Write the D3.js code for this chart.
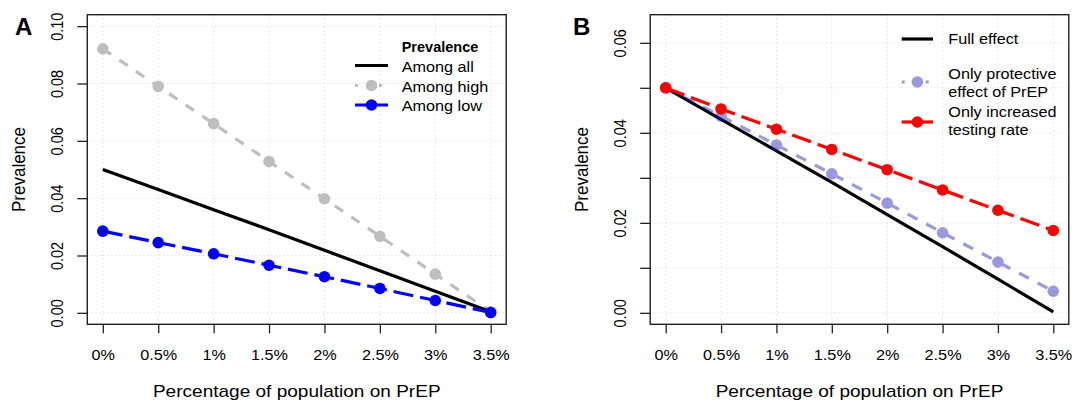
<!DOCTYPE html>
<html>
<head>
<meta charset="utf-8">
<script src="https://cdn.jsdelivr.net/npm/d3@7"></script>
<style>
  body { margin: 0; background: #fff; }
  text { font-family: "Liberation Sans", Arial, Helvetica, sans-serif; fill: #000; }
</style>
</head>
<body>
<script>
//x axis: share of population on PrEP
var xValues = [0, 0.5, 1, 1.5, 2, 2.5, 3, 3.5];
var xLabels = ["0%", "0.5%", "1%", "1.5%", "2%", "2.5%", "3%", "3.5%"];

//panel A series
var amongAll  = [0.0500, 0.0430, 0.0360, 0.0290, 0.0218, 0.0147, 0.0075, 0.0004];
var amongHigh = [0.0921, 0.0790, 0.0660, 0.0528, 0.0398, 0.0267, 0.0135, 0.0004];
var amongLow  = [0.0285, 0.0245, 0.0206, 0.0166, 0.0126, 0.0085, 0.0043, 0.0001];
var yTicksA  = [0, 0.02, 0.04, 0.06, 0.08, 0.10];
var yLabelsA = ["0.00", "0.02", "0.04", "0.06", "0.08", "0.10"];

//panel B series
var fullEffect     = [0.0500, 0.0430, 0.0360, 0.0290, 0.0218, 0.0147, 0.0075, 0.0002];
var protectiveOnly = [0.0500, 0.0437, 0.0373, 0.0309, 0.0244, 0.0178, 0.0113, 0.0048];
var testingOnly    = [0.0500, 0.0453, 0.0408, 0.0363, 0.0318, 0.0273, 0.0228, 0.0183];
var yTicksB  = [0, 0.01, 0.02, 0.03, 0.04, 0.05, 0.06];
var yLabelsB = ["0.00", "", "0.02", "", "0.04", "", "0.06"];

var width = 1072, height = 403;
var stretch = 1.12;   //text in the figure is drawn a bit wide
var lineW = 3.2, pointR = 5.8;

var svg = d3.select("body")
  .append("svg")
  .attr("width", width)
  .attr("height", height);

svg.append("rect").attr("width", width).attr("height", height).attr("fill", "#fff");

//builds one panel (box, grid, axes, titles) and returns its scales
function makePanel(p) {
  var g = svg.append("g");
  var xExt = 0.04 * (xValues[xValues.length - 1] - xValues[0]);
  var yExt = 0.04 * p.yMax;
  var x = d3.scaleLinear()
    .domain([xValues[0] - xExt, xValues[xValues.length - 1] + xExt])
    .range([p.left, p.right]);
  var y = d3.scaleLinear()
    .domain([-yExt, p.yMax + yExt])
    .range([p.bottom, p.top]);

  //dotted grid
  var grid = g.append("g")
    .attr("stroke", "#d3d3d3")
    .attr("stroke-width", 1)
    .attr("stroke-dasharray", "1,3");
  grid.selectAll(".gx").data(xValues).enter().append("line")
    .attr("x1", d => x(d)).attr("x2", d => x(d))
    .attr("y1", p.top).attr("y2", p.bottom);
  grid.selectAll(".gy").data(p.yTicks).enter().append("line")
    .attr("y1", d => y(d)).attr("y2", d => y(d))
    .attr("x1", p.left).attr("x2", p.right);

  //x axis
  var xa = g.append("g")
    .attr("transform", "translate(0," + p.bottom + ")")
    .call(d3.axisBottom(x).tickValues(xValues).tickSize(9)
      .tickFormat((d, i) => xLabels[i]));
  xa.select(".domain").remove();
  xa.attr("font-size", 14.5).attr("font-family", null).attr("color", "#222");
  xa.selectAll("line").attr("stroke-width", 1.3);
  xa.selectAll("text")
    .attr("y", 35.7).attr("dy", null)
    .attr("fill", "#000")
    .attr("transform", "scale(" + stretch + ",1)");

  //y axis, labels rotated like R's default
  var ya = g.append("g")
    .attr("transform", "translate(" + p.left + ",0)")
    .call(d3.axisLeft(y).tickValues(p.yTicks).tickSize(10)
      .tickFormat((d, i) => p.yLabels[i]));
  ya.select(".domain").remove();
  ya.attr("font-size", 14.5).attr("font-family", null).attr("color", "#222");
  ya.selectAll("line").attr("stroke-width", 1.3);
  ya.selectAll("text")
    .attr("x", null).attr("dy", null)
    .attr("fill", "#000")
    .attr("text-anchor", "middle")
    .attr("transform", "translate(-24,0) rotate(-90) scale(1," + stretch + ")");

  //box
  g.append("rect")
    .attr("x", p.left).attr("y", p.top)
    .attr("width", p.right - p.left).attr("height", p.bottom - p.top)
    .attr("fill", "none")
    .attr("stroke", "#222")
    .attr("stroke-width", 1.4);

  //axis titles
  g.append("text")
    .attr("transform", "translate(" + (p.left + p.right) / 2 + ",397) scale(" + stretch + ",1)")
    .attr("text-anchor", "middle")
    .style("font-size", "17px")
    .text("Percentage of population on PrEP");
  g.append("text")
    .attr("transform", "translate(" + (p.left - 62) + "," + (p.top + p.bottom) / 2 + ") rotate(-90) scale(1," + stretch + ")")
    .attr("text-anchor", "middle")
    .style("font-size", "17px")
    .text("Prevalence");

  //panel letter
  g.append("text")
    .attr("x", p.letterX).attr("y", 35)
    .style("font-size", "24px")
    .style("font-weight", "bold")
    .text(p.letter);

  return { g: g, x: x, y: y };
}

//one line series with optional points
function addSeries(panel, values, s) {
  var line = d3.line()
    .x((d, i) => panel.x(xValues[i]))
    .y(d => panel.y(d));
  var sg = panel.g.append("g").attr("opacity", s.opacity || 1);
  sg.append("path")
    .datum(values)
    .attr("d", line)
    .attr("fill", "none")
    .attr("stroke", s.color)
    .attr("stroke-width", lineW)
    .attr("stroke-dasharray", s.dash || null);
  if (s.points) {
    sg.selectAll("circle").data(values).enter().append("circle")
      .attr("cx", (d, i) => panel.x(xValues[i]))
      .attr("cy", d => panel.y(d))
      .attr("r", pointR)
      .attr("fill", s.color);
  }
}

//legend: symbol from x0 to x1, text at tx
function addLegend(g, items, x0, x1, tx) {
  items.forEach(function(it) {
    var lg = g.append("g").attr("opacity", it.opacity || 1);
    if (it.color) {
      lg.append("line")
        .attr("x1", x0).attr("x2", x1)
        .attr("y1", it.sy).attr("y2", it.sy)
        .attr("stroke", it.color)
        .attr("stroke-width", lineW)
        .attr("stroke-dasharray", it.dash || null);
      if (it.points) {
        lg.append("circle")
          .attr("cx", (x0 + x1) / 2).attr("cy", it.sy)
          .attr("r", pointR).attr("fill", it.color);
      }
    }
    it.lines.forEach(function(t, k) {
      g.append("text")
        .attr("transform", "translate(" + tx + "," + it.ty[k] + ") scale(" + (it.bold ? 1 : stretch) + ",1)")
        .style("font-size", it.bold ? "14.5px" : "14.5px")
        .style("font-weight", it.bold ? "bold" : "normal")
        .text(t);
    });
  });
}

//panel A
var pa = makePanel({ left: 87.3, right: 506.2, top: 14.7, bottom: 324.3, yMax: 0.10,
  yTicks: yTicksA, yLabels: yLabelsA, letter: "A", letterX: 15 });
addSeries(pa, amongHigh, { color: "#bebebe", dash: "10,10", points: true });
addSeries(pa, amongAll, { color: "#000" });
addSeries(pa, amongLow, { color: "#0000ff", dash: "20,7", points: true });
addLegend(pa.g, [
  { lines: ["Prevalence"], ty: [51.5], bold: true },
  { lines: ["Among all"], ty: [71.5], sy: 65.5, color: "#000" },
  { lines: ["Among high"], ty: [91.5], sy: 85.5, color: "#bebebe", dash: "3,9", points: true },
  { lines: ["Among low"], ty: [111], sy: 105, color: "#0000ff", points: true }
], 355, 388, 401.7);

//panel B
var pb = makePanel({ left: 650.2, right: 1068.8, top: 14.7, bottom: 324.3, yMax: 0.0637,
  yTicks: yTicksB, yLabels: yLabelsB, letter: "B", letterX: 573 });
addSeries(pb, fullEffect, { color: "#000" });
addSeries(pb, protectiveOnly, { color: "#2020c0", dash: "11,10", points: true, opacity: 0.45 });
addSeries(pb, testingOnly, { color: "#ff0000", dash: "20,7", points: true });
addLegend(pb.g, [
  { lines: ["Full effect"], ty: [44], sy: 39, color: "#000" },
  { lines: ["Only protective", "effect of PrEP"], ty: [78.5, 96.5], sy: 82, color: "#2020c0", dash: "3,9", points: true, opacity: 0.45 },
  { lines: ["Only increased", "testing rate"], ty: [117, 135], sy: 122, color: "#ff0000", points: true }
], 901.7, 933, 948.3);
</script>
</body>
</html>
